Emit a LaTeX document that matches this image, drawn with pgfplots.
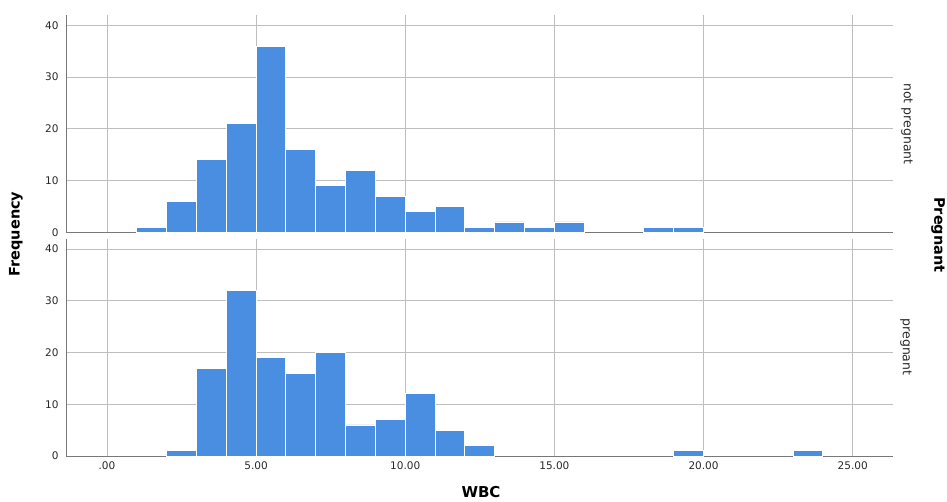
\documentclass[border=0pt]{standalone}
\usepackage{pgfplots}
\pgfplotsset{compat=1.18}
\usepackage{fontspec}
\setmainfont{DejaVu Sans}
\definecolor{barblue}{RGB}{74,142,226}
\definecolor{gridgray}{RGB}{190,190,190}
\definecolor{axisgray}{RGB}{120,120,120}
\definecolor{txtgray}{RGB}{40,40,40}
\pgfplotsset{
  panel/.style={
    scale only axis, width=827pt, height=217.3pt,
    anchor=south west,
    xmin=-1.37, xmax=26.35, ymin=0, ymax=42,
    axis x line*=bottom, axis y line*=left,
    axis line style={draw=axisgray, line width=0.9pt, -},
    xtick={0,5,10,15,20,25},
    ytick={0,10,20,30,40},
    grid=major,
    major grid style={draw=gridgray, line width=0.7pt},
    major tick length=0pt,
    /pgf/number format/assume math mode=true,
    tick label style={font=\fontsize{10.5}{12}\selectfont, text=txtgray},
    yticklabel style={xshift=-4pt},
    ybar, bar width=1, bar shift=0pt,
  },
  bars/.style={fill=barblue, draw=white, line width=0.9pt},
}
\begin{document}
\begin{tikzpicture}[x=1pt,y=1pt]
\useasboundingbox (0,0) rectangle (947,501);
% top panel: not pregnant
\begin{axis}[panel, at={(66pt,268.7pt)}, xticklabels={}]
\addplot[bars] coordinates {
(1.5,1) (2.5,6) (3.5,14) (4.5,21) (5.5,36) (6.5,16) (7.5,9) (8.5,12)
(9.5,7) (10.5,4) (11.5,5) (12.5,1) (13.5,2) (14.5,1) (15.5,2)
(18.5,1) (19.5,1)
};
\end{axis}
% bottom panel: pregnant
\begin{axis}[panel, at={(66pt,45pt)},
  xticklabels={.00,5.00,10.00,15.00,20.00,25.00},
  xticklabel style={yshift=-2pt}]
\addplot[bars] coordinates {
(2.5,1) (3.5,17) (4.5,32) (5.5,19) (6.5,16) (7.5,20) (8.5,6) (9.5,7)
(10.5,12) (11.5,5) (12.5,2) (19.5,1) (23.5,1)
};
\end{axis}
\node[rotate=90, font=\fontsize{14.5}{16}\selectfont\bfseries] at (16,267) {Frequency};
\node[rotate=-90, font=\fontsize{14.5}{16}\selectfont\bfseries] at (938,266) {Pregnant};
\node[font=\fontsize{15}{17}\selectfont\bfseries, inner sep=1pt] at (481,9) {WBC};
\node[rotate=-90, font=\fontsize{12.5}{14}\selectfont, text=txtgray] at (907,377) {not pregnant};
\node[rotate=-90, font=\fontsize{12.5}{14}\selectfont, text=txtgray] at (906,154) {pregnant};
\end{tikzpicture}
\end{document}
